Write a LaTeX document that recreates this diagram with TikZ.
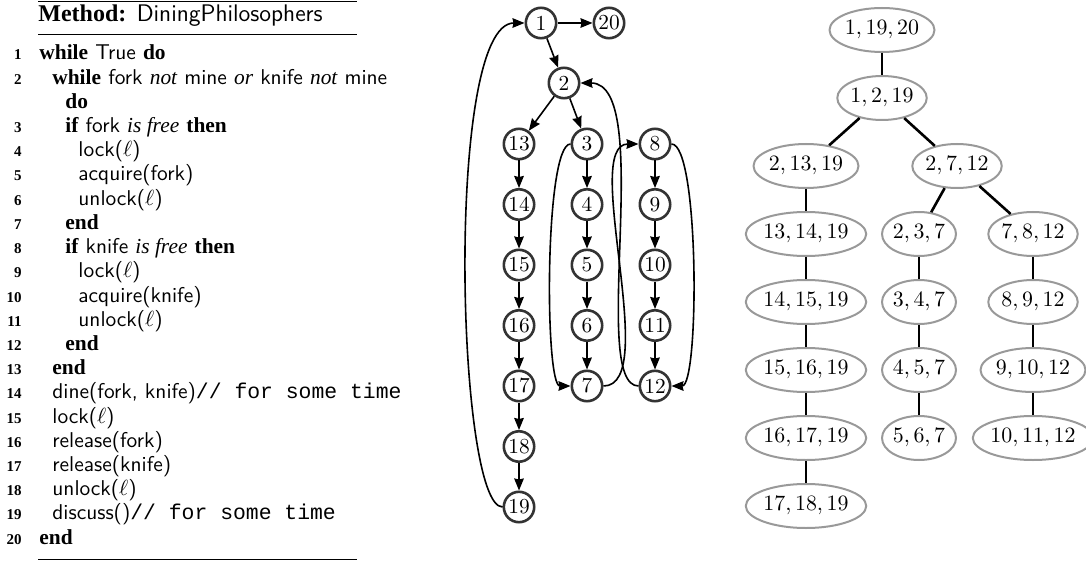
\documentclass[tikz,border=0pt]{standalone}
\usepackage{fontspec}
\usepackage{tikz}
\usetikzlibrary{automata,positioning,arrows.meta,shapes.geometric}
\newfontfamily\kwfont{Liberation Serif}
\newfontfamily\cmtfont{Liberation Mono}
\newcommand{\kw}[1]{{\kwfont\bfseries #1}}
\newcommand{\kwit}[1]{{\kwfont\itshape #1}}
\newcommand{\cmt}[1]{{\cmtfont #1}}

\begin{document}
\begin{tikzpicture}[->,>={Stealth[length=6pt,width=4.8pt,inset=0.5pt]},x=0.5pt,y=0.5pt,
  every state/.style={draw=black!80,line width=1.3pt,minimum size=15.2pt,inner sep=0pt,font=\fontsize{10.7}{12}\selectfont},
  bag/.style={ellipse,draw=black!40,line width=1pt,minimum height=22pt,inner xsep=0pt,inner ysep=1pt,font=\fontsize{10.7}{12}\selectfont},
  code/.style={anchor=base west,inner sep=0pt,font=\fontsize{10.7}{12}\selectfont\sffamily},
  num/.style={anchor=base east,inner sep=0pt,font=\fontsize{7.5}{9}\selectfont\kwfont\bfseries},
  node distance=30.25pt,on grid]
\useasboundingbox (0,0) rectangle (1086,-561);
%
\draw[-,line width=0.8pt] (38,-1.5) -- (357,-1.5);
\node[code,font=\fontsize{12}{14}\selectfont\sffamily] (title) at (38,-22) {\kw{Method:} DiningPhilosophers};
\draw[-,line width=0.5pt] (38,-35) -- (357,-35);
\node[num] (n1) at (22,-60) {1};    \node[code] (l1) at (39,-60) {\kw{while} True \kw{do}};
\node[num] (n2) at (22,-84.2) {2};  \node[code] (l2) at (52,-84.2) {\kw{while} fork \kwit{not} mine \kwit{or} knife \kwit{not} mine};
                                    \node[code] (l2b) at (65,-108.4) {\kw{do}};
\node[num] (n3) at (22,-132.6) {3}; \node[code] (l3) at (65,-132.6) {\kw{if} fork \kwit{is free} \kw{then}};
\node[num] (n4) at (22,-156.8) {4}; \node[code] (l4) at (78,-156.8) {lock($\ell$)};
\node[num] (n5) at (22,-181) {5};   \node[code] (l5) at (78,-181) {acquire(fork)};
\node[num] (n6) at (22,-205.2) {6}; \node[code] (l6) at (78,-205.2) {unlock($\ell$)};
\node[num] (n7) at (22,-229.4) {7}; \node[code] (l7) at (65,-229.4) {\kw{end}};
\node[num] (n8) at (22,-253.6) {8}; \node[code] (l8) at (65,-253.6) {\kw{if} knife \kwit{is free} \kw{then}};
\node[num] (n9) at (22,-277.8) {9}; \node[code] (l9) at (78,-277.8) {lock($\ell$)};
\node[num] (n10) at (22,-302) {10};   \node[code] (l10) at (78,-302) {acquire(knife)};
\node[num] (n11) at (22,-326.2) {11}; \node[code] (l11) at (78,-326.2) {unlock($\ell$)};
\node[num] (n12) at (22,-350.4) {12}; \node[code] (l12) at (65,-350.4) {\kw{end}};
\node[num] (n13) at (22,-374.6) {13}; \node[code] (l13) at (52,-374.6) {\kw{end}};
\node[num] (n14) at (22,-398.8) {14}; \node[code] (l14) at (52,-398.8) {dine(fork, knife)\cmt{// for some time}};
\node[num] (n15) at (22,-423) {15};   \node[code] (l15) at (52,-423) {lock($\ell$)};
\node[num] (n16) at (22,-447.2) {16}; \node[code] (l16) at (52,-447.2) {release(fork)};
\node[num] (n17) at (22,-471.4) {17}; \node[code] (l17) at (52,-471.4) {release(knife)};
\node[num] (n18) at (22,-495.6) {18}; \node[code] (l18) at (52,-495.6) {unlock($\ell$)};
\node[num] (n19) at (22,-519.8) {19}; \node[code] (l19) at (52,-519.8) {discuss()\cmt{// for some time}};
\node[num] (n20) at (22,-544) {20};   \node[code] (l20) at (39,-544) {\kw{end}};
\draw[-,line width=0.8pt] (38,-559.5) -- (357,-559.5);
%
\node[state] (v1) at (541,-23) {1};
\node[state,right=34pt of v1] (v20) {20};
\node[state,below right=30pt and 11.5pt of v1] (v2) {2};
\node[state,below left=30.5pt and 22.5pt of v2] (v13) {13};
\node[state,below right=30.5pt and 11.5pt of v2] (v3) {3};
\node[state,right=34pt of v3] (v8) {8};
\node[state,below=of v13] (v14) {14};
\node[state,below=of v14] (v15) {15};
\node[state,below=of v15] (v16) {16};
\node[state,below=of v16] (v17) {17};
\node[state,below=of v17] (v18) {18};
\node[state,below=of v18] (v19) {19};
\node[state,below=of v3] (v4) {4};
\node[state,below=of v4] (v5) {5};
\node[state,below=of v5] (v6) {6};
\node[state,below=of v6] (v7) {7};
\node[state,below=of v8] (v9) {9};
\node[state,below=of v9] (v10) {10};
\node[state,below=of v10] (v11) {11};
\node[state,below=of v11] (v12) {12};
\begin{scope}[line width=0.8pt]
\path (v1) edge (v20)
      (v1) edge (v2)
      (v2) edge (v13)
      (v2) edge (v3)
      (v13) edge (v14) (v14) edge (v15) (v15) edge (v16)
      (v16) edge (v17) (v17) edge (v18) (v18) edge (v19)
      (v3) edge (v4) (v4) edge (v5) (v5) edge (v6) (v6) edge (v7)
      (v8) edge (v9) (v9) edge (v10) (v10) edge (v11) (v11) edge (v12);
\path (v19) edge [out=180,in=180,out distance=23pt,in distance=40pt] (v1)
      (v3) edge [out=180,in=180,distance=13pt] (v7)
      (v8) edge [out=0,in=0,distance=14pt] (v12)
      (v7) edge [out=0,in=180,distance=29pt] (v8)
      (v12) edge [out=180,in=0,out distance=25pt,in distance=37.5pt] (v2);
\end{scope}
%
\node[bag] (t20) at (882,-30) {$1, 19, 20$};
\node[bag,below=34pt of t20] (t1) {$1, 2, 19$};
\node[bag,below left=34pt and 38pt of t1] (t2) {$2, 13, 19$};
\node[bag,below right=34pt and 37.5pt of t1] (t7) {$2, 7, 12$};
\node[bag,below=34pt of t2] (t13) {$13, 14, 19$};
\node[bag,below=34pt of t13] (t14) {$14, 15, 19$};
\node[bag,below=34pt of t14] (t15) {$15, 16, 19$};
\node[bag,below=34pt of t15] (t16) {$16, 17, 19$};
\node[bag,below=34pt of t16] (t17) {$17, 18, 19$};
\node[bag,below left=34pt and 19pt of t7] (t3) {$2, 3, 7$};
\node[bag,below=34pt of t3] (t4) {$3, 4, 7$};
\node[bag,below=34pt of t4] (t5) {$4, 5, 7$};
\node[bag,below=34pt of t5] (t6) {$5, 6, 7$};
\node[bag,below right=34pt and 38pt of t7] (t8) {$7, 8, 12$};
\node[bag,below=34pt of t8] (t9) {$8, 9, 12$};
\node[bag,below=34pt of t9] (t10) {$9, 10, 12$};
\node[bag,below=34pt of t10] (t11) {$10, 11, 12$};
\begin{scope}[-,line width=1.3pt]
\path (t20) edge (t1)
      (t1) edge (t2) (t1) edge (t7)
      (t2) edge (t13) (t13) edge (t14) (t14) edge (t15) (t15) edge (t16) (t16) edge (t17)
      (t7) edge (t3) (t3) edge (t4) (t4) edge (t5) (t5) edge (t6)
      (t7) edge (t8) (t8) edge (t9) (t9) edge (t10) (t10) edge (t11);
\end{scope}
\end{tikzpicture}
\end{document}
